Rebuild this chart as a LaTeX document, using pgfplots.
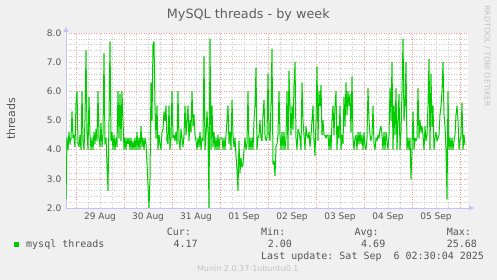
\documentclass[border=0pt]{standalone}
\usepackage{fontspec}
\setmainfont{DejaVu Sans}
\setsansfont{DejaVu Sans}
\setmonofont{DejaVu Sans Mono}
\usepackage{pgfplots}
\pgfplotsset{compat=1.18}
\usepackage{pgfplotstable}
\usetikzlibrary{arrows.meta}
\definecolor{bgcol}{RGB}{240,240,240}
\definecolor{axisblue}{RGB}{195,195,245}
\definecolor{gridred}{RGB}{245,150,150}
\definecolor{gridgray}{RGB}{205,205,205}
\definecolor{linegreen}{RGB}{0,204,0}
\definecolor{labelgray}{RGB}{85,85,85}
\definecolor{titlegray}{RGB}{95,95,95}
\definecolor{faintgray}{RGB}{195,195,195}

\pgfplotstableread{
h v
-5.0 2.3
-4.5 4.4
-4.0 4.0
-3.5 4.6
-3.0 4.2
-2.5 4.4
-2.0 5.3
-1.5 4.4
-1.0 4.5
-0.5 4.1
0.0 5.6
0.5 6.0
1.0 4.2
1.5 4.1
2.0 4.5
2.5 4.0
3.0 6.0
3.5 4.3
4.0 4.0
4.5 5.0
5.0 7.4
5.5 4.6
6.0 4.0
6.5 5.8
7.0 4.5
7.5 4.0
8.0 4.4
8.5 4.0
9.0 4.6
9.5 4.2
10.0 4.7
10.5 4.3
11.0 6.0
11.5 4.4
12.0 4.1
12.5 4.9
13.0 4.1
13.5 4.5
14.0 7.3
14.5 4.2
15.0 4.4
15.5 3.5
16.0 2.6
16.5 5.0
17.0 7.7
17.5 4.3
18.0 4.6
18.5 4.0
19.0 4.5
19.5 4.0
20.0 4.4
20.5 4.1
21.0 6.0
21.5 4.4
22.0 5.9
22.5 4.3
23.0 6.0
23.5 5.0
24.0 4.0
24.5 4.4
25.0 4.0
25.5 4.4
26.0 4.2
26.5 4.4
27.0 4.0
27.5 4.4
28.0 4.0
28.5 4.3
29.0 4.0
29.5 4.4
30.0 4.0
30.5 4.6
31.0 4.0
31.5 4.4
32.0 4.0
32.5 4.8
33.0 4.1
33.5 4.4
34.0 4.0
34.5 4.4
35.0 4.2
35.5 3.5
36.0 2.8
36.5 2.0
37.0 3.0
37.5 6.3
38.0 5.0
38.5 7.6
39.0 7.7
39.5 5.5
40.0 4.4
40.5 5.5
41.0 4.0
41.5 4.5
42.0 4.2
42.5 4.0
43.0 4.6
43.5 4.7
44.0 5.3
44.5 5.0
45.0 5.5
45.5 4.3
46.0 4.2
46.5 5.5
47.0 4.0
47.5 4.4
48.0 6.0
48.5 4.4
49.0 4.5
49.5 4.3
50.0 4.6
50.5 4.2
51.0 6.0
51.5 4.3
52.0 4.0
52.5 4.7
53.0 4.4
53.5 4.1
54.0 4.5
54.5 5.5
55.0 4.5
55.5 5.0
56.0 5.5
56.5 4.3
57.0 5.0
57.5 4.6
58.0 6.0
58.5 4.8
59.0 5.2
59.5 4.5
60.0 4.3
60.5 4.0
61.0 4.4
61.5 4.1
62.0 4.6
62.5 4.0
63.0 4.4
63.5 4.3
64.0 7.2
64.5 4.0
65.0 4.5
65.5 5.3
66.0 4.6
66.5 2.0
67.0 7.8
67.5 4.0
68.0 5.5
68.5 4.1
69.0 4.6
69.5 4.0
70.0 4.4
70.5 4.0
71.0 4.5
71.5 4.0
72.0 4.4
72.5 4.4
73.0 4.4
73.5 4.0
74.0 4.4
74.5 4.0
75.0 4.5
75.5 5.0
76.0 5.5
76.5 4.2
77.0 4.6
77.5 4.0
78.0 5.7
78.5 4.5
79.0 4.1
79.5 4.4
80.0 3.8
80.5 3.3
81.0 2.6
81.5 4.3
82.0 3.2
82.5 3.7
83.0 3.4
83.5 3.5
84.0 4.0
84.5 4.4
85.0 4.0
85.5 4.2
86.0 6.0
86.5 4.0
87.0 4.4
87.5 4.0
88.0 4.4
88.5 4.0
89.0 5.0
89.5 5.5
90.0 6.8
90.5 4.0
91.0 4.4
91.5 4.5
92.0 5.0
92.5 4.4
93.0 4.3
93.5 5.2
94.0 5.7
94.5 4.5
95.0 4.3
95.5 4.4
96.0 6.6
96.5 4.5
97.0 4.3
97.5 5.6
98.0 7.45
98.5 3.5
99.0 3.6
99.5 3.1
100.0 4.1
100.5 4.2
101.0 4.5
101.5 6.0
102.0 4.5
102.5 4.0
103.0 4.6
103.5 4.0
104.0 4.6
104.5 4.0
105.0 4.4
105.5 6.0
106.0 4.0
106.5 6.7
107.0 5.5
107.5 4.5
108.0 5.5
108.5 4.7
109.0 6.2
109.5 7.0
110.0 4.4
110.5 4.0
111.0 4.7
111.5 4.6
112.0 4.4
112.5 4.0
113.0 6.3
113.5 5.0
114.0 4.5
114.5 4.0
115.0 4.8
115.5 4.5
116.0 4.4
116.5 4.6
117.0 4.1
117.5 4.5
118.0 5.0
118.5 5.5
119.0 4.3
119.5 3.8
120.0 5.0
120.5 6.85
121.0 4.3
121.5 6.0
122.0 5.5
122.5 6.2
123.0 4.5
123.5 5.0
124.0 4.5
124.5 4.5
125.0 4.4
125.5 4.5
126.0 4.5
126.5 4.0
127.0 4.5
127.5 4.0
128.0 5.0
128.5 5.5
129.0 4.5
129.5 5.5
130.0 6.0
130.5 4.0
131.0 4.8
131.5 4.4
132.0 5.5
132.5 4.0
133.0 4.5
133.5 4.2
134.0 5.8
134.5 4.8
135.0 6.3
135.5 5.2
136.0 6.0
136.5 5.5
137.0 5.9
137.5 4.6
138.0 6.5
138.5 4.4
139.0 4.0
139.5 4.4
140.0 4.5
140.5 4.0
141.0 4.6
141.5 4.2
142.0 4.6
142.5 4.2
143.0 4.5
143.5 4.0
144.0 4.6
144.5 4.1
145.0 4.0
145.5 4.4
146.0 6.1
146.5 5.0
147.0 4.5
147.5 4.3
148.0 4.5
148.5 5.5
149.0 4.2
149.5 4.0
150.0 4.4
150.5 4.3
151.0 4.5
151.5 4.4
152.0 4.7
152.5 4.8
153.0 4.5
153.5 4.0
154.0 4.6
154.5 4.0
155.0 4.6
155.5 4.3
156.0 4.0
156.5 4.5
157.0 6.1
157.5 5.0
158.0 7.0
158.5 4.0
159.0 5.5
159.5 4.5
160.0 6.1
160.5 4.0
161.0 5.0
161.5 5.9
162.0 4.0
162.5 4.6
163.0 6.0
163.5 7.8
164.0 5.0
164.5 5.5
165.0 7.0
165.5 4.0
166.0 4.4
166.5 4.0
167.0 4.4
167.5 3.0
168.0 4.0
168.5 5.3
169.0 4.0
169.5 4.4
170.0 4.3
170.5 4.4
171.0 6.1
171.5 4.4
172.0 5.0
172.5 4.6
173.0 4.8
173.5 4.5
174.0 4.0
174.5 4.8
175.0 4.3
175.5 4.5
176.0 5.5
176.5 7.1
177.0 4.0
177.5 6.6
178.0 4.8
178.5 5.5
179.0 4.0
179.5 4.4
180.0 4.6
180.5 4.3
181.0 4.4
181.5 4.5
182.0 5.2
182.5 5.5
183.0 6.0
183.5 7.0
184.0 5.2
184.5 4.8
185.0 4.0
185.5 2.3
186.0 6.0
186.5 4.0
187.0 4.4
187.5 4.0
188.0 4.4
188.5 4.0
189.0 4.3
189.5 4.5
190.0 5.2
190.5 5.5
191.0 5.0
191.5 4.0
192.0 4.3
192.5 4.5
193.0 5.6
193.5 4.0
194.0 4.5
194.5 4.17
}\threads

\begin{document}
\begin{tikzpicture}[x=1pt,y=1pt]
\useasboundingbox (0,0) rectangle (497,280);
\fill[bgcol] (0,0) rectangle (497,280);
\begin{axis}[
  at={(66pt,72pt)}, anchor=south west,
  scale only axis, width=402pt, height=175pt,
  xmin=-5, xmax=196, ymin=2, ymax=8,
  axis background/.style={fill=white},
  axis x line=bottom, axis y line=left,
  axis line style={draw=axisblue, line width=0.8pt},
  x axis line style={-{Triangle[length=5pt,width=5pt]}, shorten >=-6pt},
  y axis line style={-{Triangle[length=5pt,width=5pt]}, shorten >=-6pt},
  xtick={0,24,...,192}, xticklabels={},
  minor xtick={6,12,18,30,36,42,54,60,66,78,84,90,102,108,114,126,132,138,150,156,162,174,180,186,-6,198},
  extra x ticks={12,36,60,84,108,132,156,180},
  extra x tick labels={29 Aug,30 Aug,31 Aug,01 Sep,02 Sep,03 Sep,04 Sep,05 Sep},
  extra x tick style={grid=none, major tick length=0pt,
     xticklabel style={anchor=north, inner sep=0pt, yshift=-5pt}},
  ytick={2,3,4,5,6,7,8},
  yticklabels={2.0,3.0,4.0,5.0,6.0,7.0,8.0},
  minor y tick num=4,
  major tick length=0pt, minor tick length=0pt,
  grid=both,
  major grid style={draw=gridred, line width=0.6pt, dash pattern=on 1pt off 1.5pt},
  minor grid style={draw=gridgray, line width=0.6pt, dash pattern=on 1pt off 1.5pt},
  every tick label/.append style={font=\fontsize{9}{10}\selectfont, text=labelgray},
  yticklabel style={anchor=east, inner sep=0pt, xshift=-4.5pt},
  clip=true,
]
\addplot[draw=linegreen, line width=1pt, no markers, line join=round] table[x=h,y=v]{\threads};
\end{axis}
% title
\node[anchor=base, text=titlegray, font=\fontsize{12.8}{14}\selectfont, inner sep=0pt] at (248.3,261.7) {MySQL threads - by week};
% y label
\node[anchor=base, rotate=90, text=labelgray, font=\fontsize{11}{12}\selectfont, inner sep=0pt] at (15,161) {threads};
% right vertical text
\node[anchor=base, rotate=-90, text=faintgray, font=\fontsize{7.9}{9}\selectfont, inner sep=0pt] at (484.5,224) {RRDTOOL / TOBI OETIKER};
% legend
\fill[linegreen] (14,32.7) rectangle (19.3,38.3);
\begin{scope}[every node/.style={anchor=base west, inner sep=0pt, text=labelgray, font=\ttfamily\fontsize{10}{11}\selectfont}]
\node at (26,32.7) {mysql threads};
\node at (166.7,44.3) {Cur:};
\node at (173.3,32.7) {4.17};
\node at (261,44.3) {Min:};
\node at (267.7,32.7) {2.00};
\node at (354.3,44.3) {Avg:};
\node at (361,32.7) {4.69};
\node at (446.7,44.3) {Max:};
\node at (446.7,32.7) {25.68};
\node at (261,20) {Last update: Sat Sep\ \ 6 02:30:04 2025};
\end{scope}
\node[anchor=base, inner sep=0pt, text=faintgray, font=\fontsize{8}{9}\selectfont] at (247.8,8.3) {Munin 2.0.37-1ubuntu0.1};
\end{tikzpicture}
\end{document}
